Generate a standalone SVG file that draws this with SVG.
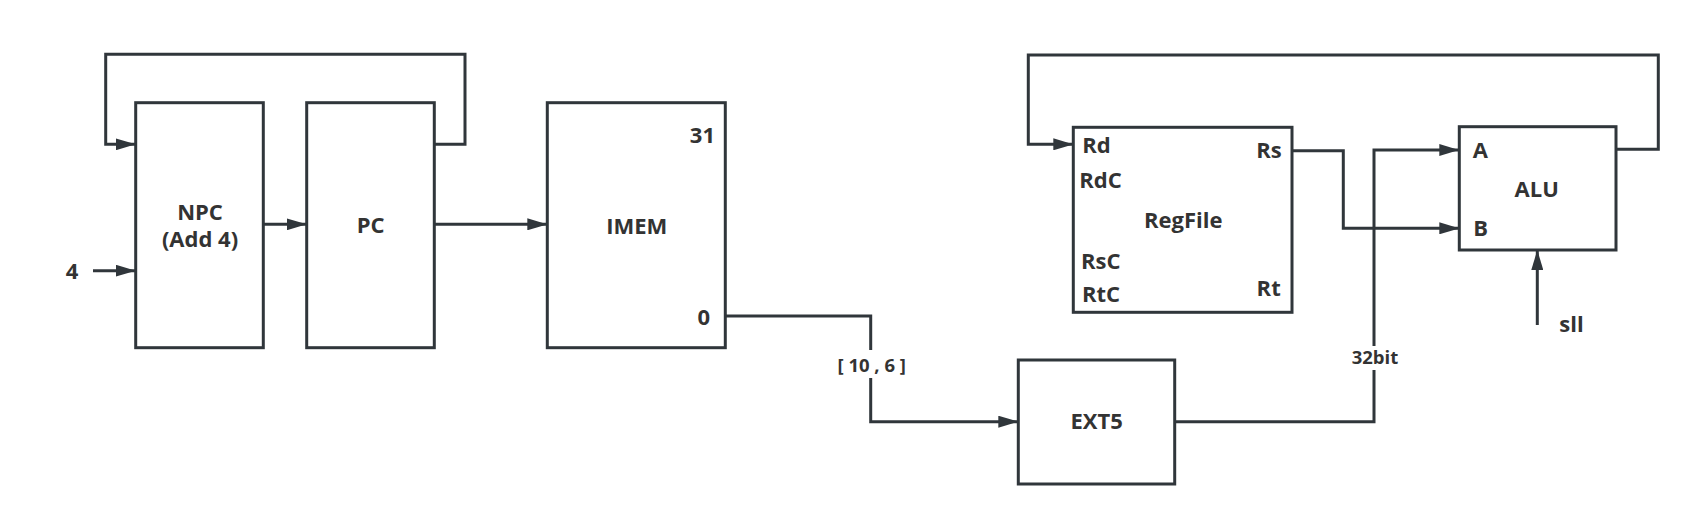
<svg xmlns="http://www.w3.org/2000/svg" width="1686" height="514" viewBox="0 0 1686 514">
<style>
.box{fill:#fff;stroke:#30363b;stroke-width:3}
.wire{fill:none;stroke:#30363b;stroke-width:3}
.t{font-family:"Open Sans","Noto Sans","Liberation Sans",sans-serif;font-weight:bold;fill:#333;font-size:22px}
.c{text-anchor:middle}
.r{text-anchor:end}
.lbl{font-size:18.5px}
</style>
<defs>
<marker id="ar" markerUnits="userSpaceOnUse" markerWidth="20" markerHeight="12" refX="20" refY="6" orient="auto">
<path d="M0,0 L20,6 L0,12 z" fill="#30363b"/>
</marker>
</defs>
<rect width="1686" height="514" fill="#fff"/>
<g id="connectors">
<path class="wire" d="M434.3,144.3 H465 V54.3 H105.7 V144.3 H135.7" marker-end="url(#ar)"/>
<path class="wire" d="M93,270.7 H135.7" marker-end="url(#ar)"/>
<path class="wire" d="M263.3,224.3 H306.7" marker-end="url(#ar)"/>
<path class="wire" d="M434.3,224.3 H547.3" marker-end="url(#ar)"/>
<path class="wire" d="M725.3,316 H870.7 V421.7 H1018.3" marker-end="url(#ar)"/>
<path class="wire" d="M1174.7,421.7 H1374 V150 H1459.3" marker-end="url(#ar)"/>
<path class="wire" d="M1292,150.7 H1343.3 V228.3 H1459.3" marker-end="url(#ar)"/>
<path class="wire" d="M1616,149.3 H1658.3 V55 H1028.3 V144.3 H1073.3" marker-end="url(#ar)"/>
<path class="wire" d="M1537.3,325 V250" marker-end="url(#ar)"/>
<rect x="830" y="350" width="84" height="28" fill="#fff"/>
<text class="t c lbl" x="871.7" y="371.7">[ 10 , 6 ]</text>
<rect x="1346" y="346" width="58" height="24" fill="#fff"/>
<text class="t c lbl" x="1375" y="364.3">32bit</text>
<text class="t c" x="72" y="279">4</text>
<text class="t" x="1559.3" y="331.7">sll</text>
</g>
<g id="npc">
<rect class="box" x="135.7" y="102.7" width="127.6" height="245"/>
<text class="t c" x="200" y="220">NPC</text>
<text class="t c" x="200" y="246.7">(Add 4)</text>
</g>
<g id="pc">
<rect class="box" x="306.7" y="102.7" width="127.6" height="245"/>
<text class="t c" x="370.7" y="233">PC</text>
</g>
<g id="imem">
<rect class="box" x="547.3" y="102.7" width="178" height="245"/>
<text class="t c" x="636.7" y="234">IMEM</text>
<text class="t r" x="715" y="142.7">31</text>
<text class="t r" x="710" y="325">0</text>
</g>
<g id="regfile">
<rect class="box" x="1073.3" y="127.3" width="218.7" height="185"/>
<text class="t" x="1082.3" y="152.7">Rd</text>
<text class="t" x="1079.3" y="188.3">RdC</text>
<text class="t" x="1081" y="268.7">RsC</text>
<text class="t" x="1082" y="302.3">RtC</text>
<text class="t r" x="1281.7" y="158.3">Rs</text>
<text class="t r" x="1280.7" y="296">Rt</text>
<text class="t c" x="1183.3" y="227.7">RegFile</text>
</g>
<g id="ext5">
<rect class="box" x="1018.3" y="360" width="156.4" height="124"/>
<text class="t c" x="1096.7" y="429.3">EXT5</text>
</g>
<g id="alu">
<rect class="box" x="1459.3" y="126.7" width="156.7" height="123.3"/>
<text class="t" x="1472.7" y="158.3">A</text>
<text class="t" x="1473.3" y="236">B</text>
<text class="t c" x="1536.7" y="196.7">ALU</text>
</g>
</svg>
